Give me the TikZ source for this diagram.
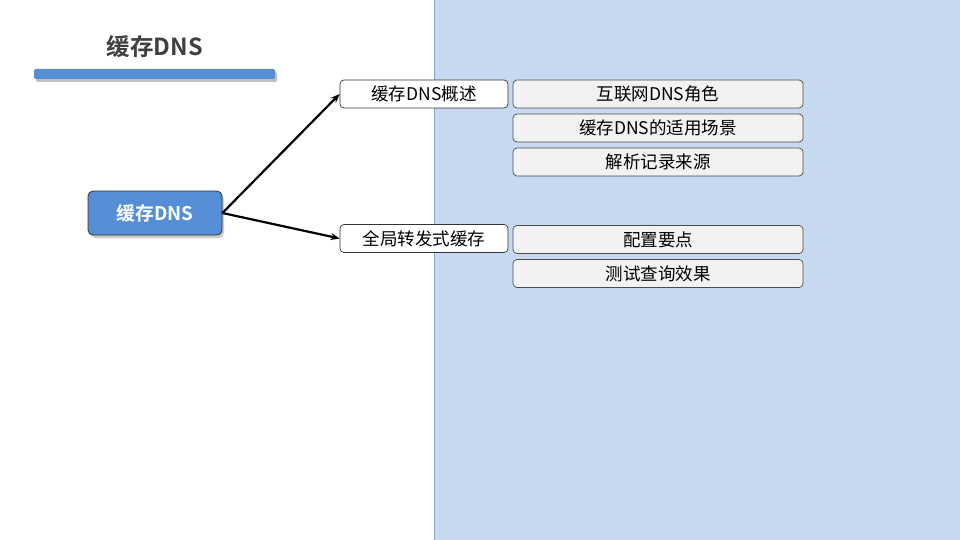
\documentclass[tikz,border=0pt]{standalone}
\usepackage{fontspec}
\setmainfont{Noto Sans CJK SC}
\newfontfamily\cjkb{Noto Sans CJK SC Bold}
\usetikzlibrary{arrows.meta,shadows}
\definecolor{panelfill}{HTML}{C6D9F0}
\definecolor{panelline}{HTML}{7EA6E0}
\definecolor{mainblue}{HTML}{558ED5}
\definecolor{boxfill}{HTML}{F2F2F2}
\definecolor{titlegray}{HTML}{404040}
\tikzset{
  rootbox/.style={draw=black!80, line width=0.8pt, fill=mainblue, rounded corners=5pt, minimum width=134pt, minimum height=44pt, text=white, font=\cjkb\fontsize{18.8}{20}\selectfont, drop shadow={shadow xshift=2pt, shadow yshift=-3pt, opacity=0.4}},
  midbox/.style={draw=black!80, line width=0.7pt, fill=white, rounded corners=4pt, minimum width=168pt, minimum height=28pt, font=\fontsize{17.5}{18}\selectfont},
  leafbox/.style={draw=black!70, line width=0.7pt, fill=boxfill, rounded corners=4pt, minimum width=290pt, minimum height=28pt, font=\fontsize{17.5}{18}\selectfont},
  conn/.style={-{Stealth[length=9pt,width=7pt]}, line width=2.2pt, black}
}
\begin{document}
\begin{tikzpicture}[x=1pt,y=-1pt]
\useasboundingbox (0,0) rectangle (960,540);
\fill[white] (0,0) rectangle (960,540);
\draw[fill=panelfill, draw=panelline, line width=1pt] (434.5,0) rectangle (960,540);
\node[font=\cjkb\fontsize{23.5}{25}\selectfont, text=titlegray] (title) at (155,47) {缓存DNS};
\fill[black, opacity=0.25, rounded corners=2pt] (36,72) rectangle (277,82);
\fill[mainblue, rounded corners=2pt] (34,69) rectangle (275,79);
\node[rootbox] (root) at (155,213) {缓存DNS};
\node[midbox, inner sep=0pt] (m1) at (424,94) {缓存DNS概述};
\node[midbox, inner sep=0pt] (m2) at (424,238.5) {全局转发式缓存};
\node[leafbox, inner sep=0pt] (l1) at (658,94) {互联网DNS角色};
\node[leafbox, inner sep=0pt] (l2) at (658,128) {缓存DNS的适用场景};
\node[leafbox, inner sep=0pt] (l3) at (658,162) {解析记录来源};
\node[leafbox, inner sep=0pt] (l4) at (658,239.5) {配置要点};
\node[leafbox, inner sep=0pt] (l5) at (658,273.5) {测试查询效果};
\draw[conn] (root.east) -- (m1.west);
\draw[conn] (root.east) -- (m2.west);
\end{tikzpicture}
\end{document}
